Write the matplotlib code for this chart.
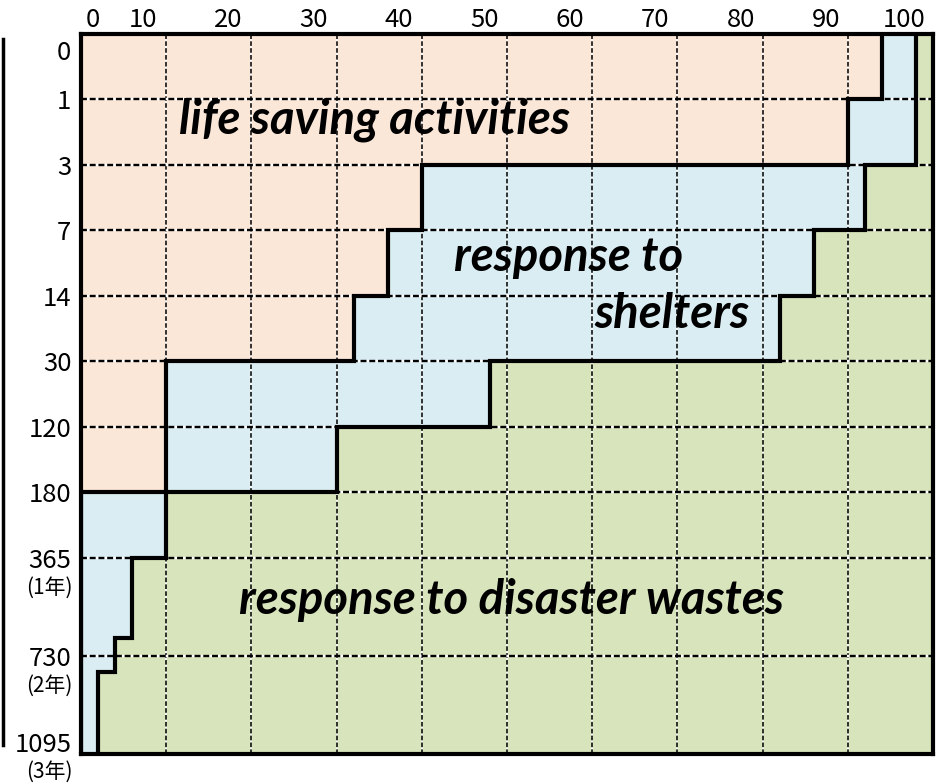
import numpy as np
import matplotlib
matplotlib.use("Agg")
import matplotlib.pyplot as plt
from matplotlib.lines import Line2D
import matplotlib.transforms as mtransforms

# ---------------- data ----------------
day_ticks = [0, 1, 3, 7, 14, 30, 120, 180, 365, 730, 1095]
day_slots = [0, 1, 2, 3, 4, 5, 6, 7, 8, 9.5, 11]          # visual slot of each tick
row_edges = [0, 1, 3, 7, 14, 30, 120, 180, 365, 665, 790, 1095]   # days
life_saving_end = [94, 90, 40, 36, 32, 10, 10, 0, 0, 0, 0]       # % per row
shelters_end = [98, 98, 92, 86, 82, 48, 30, 10, 6, 4, 2]          # % per row

xtick_values = [0, 10, 20, 30, 40, 50, 60, 70, 80, 90, 100]
xtick_label_pos = [1.4, 7.3, 17.3, 27.3, 37.3, 47.4, 57.4, 67.4, 77.5, 87.4, 96.6]
grid_x = [10, 20, 30, 40, 50, 60, 70, 80, 90]
grid_y = [1, 3, 7, 14, 30, 120, 180, 365, 730]
ytick_labels = ["0", "1", "3", "7", "14", "30", "120", "180", "365", "730", "1095"]
ytick_label_pos = [0.25, 1, 3, 7, 14, 30, 120, 180, 365, 730, 1050]
year_notes = {"365": "(1年)", "730": "(2年)", "1095": "(3年)"}

c_orange = "#FBE7D8"
c_blue = "#DAEDF3"
c_green = "#D8E4BC"

# --------------- figure ---------------
fig = plt.figure(figsize=(9.42, 7.83), dpi=100)
ax = fig.add_axes([81 / 942, 1 - 754 / 783, 852 / 942, 720 / 783])

def fwd(d):
    return np.interp(d, day_ticks, day_slots)

def inv(s):
    return np.interp(s, day_slots, day_ticks)

ax.set_yscale("function", functions=(fwd, inv))
ax.set_xlim(0, 100)
ax.set_ylim(1095, 0)

edges = np.array(row_edges, dtype=float)
b1 = np.array(life_saving_end + [life_saving_end[-1]], dtype=float)
b2 = np.array(shelters_end + [shelters_end[-1]], dtype=float)

ax.fill_betweenx(edges, 0, b1, step="post", color=c_orange, lw=0, zorder=1)
ax.fill_betweenx(edges, b1, b2, step="post", color=c_blue, lw=0, zorder=1)
ax.fill_betweenx(edges, b2, 100, step="post", color=c_green, lw=0, zorder=1)

# grid
for gx in grid_x:
    ax.axvline(gx, color="black", lw=1.1, ls=(0, (3, 1.5)), gapcolor="white", zorder=2)
for gy in grid_y:
    ax.axhline(gy, color="black", lw=1.7, ls=(0, (2.5, 1.2)), gapcolor="white", zorder=2)

# step boundaries
ys = np.column_stack([edges[:-1], edges[1:]]).ravel()
for b in (life_saving_end, shelters_end):
    xs = np.repeat(np.array(b, dtype=float), 2)
    ax.plot(xs, ys, color="black", lw=3.0, solid_joinstyle="miter", zorder=3)

for s in ax.spines.values():
    s.set_linewidth(3.0)
    s.set_zorder(4)

# ticks
tick_font = ["Noto Sans CJK JP", "DejaVu Sans"]
ax.xaxis.tick_top()
ax.set_xticks(xtick_label_pos)
ax.set_xticklabels([str(v) for v in xtick_values], family=tick_font, fontsize=18.5)
ax.set_yticks(ytick_label_pos)
ax.set_yticklabels(ytick_labels, family=tick_font, fontsize=18.5)
ax.yaxis.set_minor_locator(matplotlib.ticker.NullLocator())
ax.tick_params(axis="both", length=0)
ax.tick_params(axis="x", pad=1)
ax.tick_params(axis="y", pad=7)

trans = mtransforms.blended_transform_factory(ax.transAxes, ax.transData)
for lab, pos in zip(ytick_labels, ytick_label_pos):
    if lab in year_notes:
        ax.annotate(year_notes[lab], xy=(0, pos), xycoords=trans,
                    xytext=(-8, -30), textcoords="offset pixels",
                    ha="right", va="center", family=tick_font, fontsize=15)

# region labels
lab_kw = dict(transform=ax.transAxes, ha="center", va="center",
              family=["Lato", "DejaVu Sans"], fontweight="bold", fontstyle="italic",
              fontsize=34, zorder=5)
ax.text(0.345, 0.881, "life saving activities", **lab_kw)
ax.text(0.572, 0.690, "response to", **lab_kw)
ax.text(0.694, 0.611, "shelters", **lab_kw)
ax.text(0.505, 0.214, "response to disaster wastes", **lab_kw)

# stray border line at the far left
fig.add_artist(Line2D([2.5 / 942, 2.5 / 942], [1 - 39 / 783, 1 - 745 / 783],
                      color="black", lw=2.5))

fig.savefig("out.png", dpi=100)
